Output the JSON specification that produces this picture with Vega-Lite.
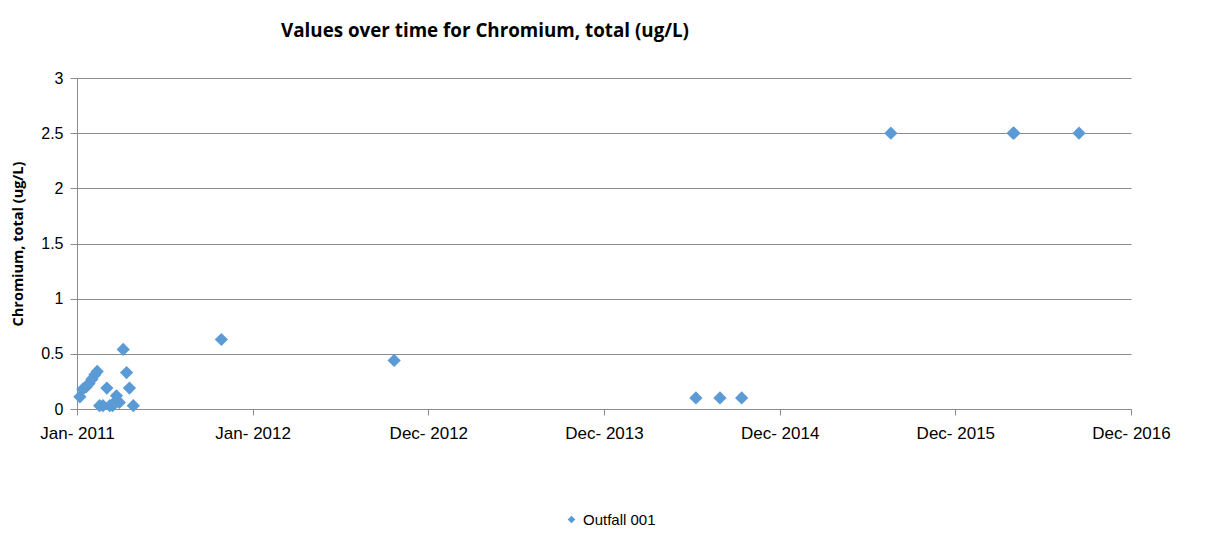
{
  "$schema": "https://vega.github.io/schema/vega-lite/v6.json",
  "width": 1054,
  "height": 331,
  "autosize": {"type": "none"},
  "padding": {"left": 77, "top": 78, "right": 75, "bottom": 130},
  "background": "white",
  "title": {
    "text": "Values over time for Chromium, total (ug/L)",
    "font": "Open Sans",
    "fontSize": 18.8,
    "fontWeight": "bold",
    "color": "#000000",
    "anchor": "middle",
    "dx": -119,
    "offset": 29
  },
  "config": {"view": {"stroke": null}},
  "data": {
    "values": [
      {"date": "2011-01-07", "value": 0.11, "series": "Outfall 001"},
      {"date": "2011-01-13", "value": 0.18, "series": "Outfall 001"},
      {"date": "2011-01-20", "value": 0.20, "series": "Outfall 001"},
      {"date": "2011-01-26", "value": 0.23, "series": "Outfall 001"},
      {"date": "2011-02-01", "value": 0.27, "series": "Outfall 001"},
      {"date": "2011-02-07", "value": 0.31, "series": "Outfall 001"},
      {"date": "2011-02-12", "value": 0.34, "series": "Outfall 001"},
      {"date": "2011-02-17", "value": 0.03, "series": "Outfall 001"},
      {"date": "2011-02-24", "value": 0.03, "series": "Outfall 001"},
      {"date": "2011-03-04", "value": 0.19, "series": "Outfall 001"},
      {"date": "2011-03-10", "value": 0.03, "series": "Outfall 001"},
      {"date": "2011-03-16", "value": 0.03, "series": "Outfall 001"},
      {"date": "2011-03-22", "value": 0.07, "series": "Outfall 001"},
      {"date": "2011-03-24", "value": 0.12, "series": "Outfall 001"},
      {"date": "2011-03-30", "value": 0.06, "series": "Outfall 001"},
      {"date": "2011-04-07", "value": 0.54, "series": "Outfall 001"},
      {"date": "2011-04-14", "value": 0.33, "series": "Outfall 001"},
      {"date": "2011-04-20", "value": 0.19, "series": "Outfall 001"},
      {"date": "2011-04-28", "value": 0.03, "series": "Outfall 001"},
      {"date": "2011-10-28", "value": 0.63, "series": "Outfall 001"},
      {"date": "2012-10-21", "value": 0.44, "series": "Outfall 001"},
      {"date": "2014-07-10", "value": 0.10, "series": "Outfall 001"},
      {"date": "2014-08-29", "value": 0.10, "series": "Outfall 001"},
      {"date": "2014-10-13", "value": 0.10, "series": "Outfall 001"},
      {"date": "2015-08-19", "value": 2.5, "series": "Outfall 001"},
      {"date": "2016-04-29", "value": 2.5, "series": "Outfall 001"},
      {"date": "2016-05-01", "value": 2.5, "series": "Outfall 001"},
      {"date": "2016-09-13", "value": 2.5, "series": "Outfall 001"}
    ]
  },
  "mark": {"type": "point", "shape": "diamond", "filled": true, "opacity": 1, "size": 175},
  "encoding": {
    "x": {
      "field": "date",
      "type": "temporal",
      "title": null,
      "scale": {
        "type": "utc",
        "nice": false,
        "domain": [
          {"year": 2011, "month": 1, "date": 1, "utc": true},
          {"year": 2016, "month": 12, "date": 30, "utc": true}
        ]
      },
      "axis": {
        "values": [
          {"year": 2011, "month": 1, "date": 1, "utc": true},
          {"year": 2012, "month": 1, "date": 1, "utc": true},
          {"year": 2012, "month": 12, "date": 31, "utc": true},
          {"year": 2013, "month": 12, "date": 31, "utc": true},
          {"year": 2014, "month": 12, "date": 31, "utc": true},
          {"year": 2015, "month": 12, "date": 31, "utc": true},
          {"year": 2016, "month": 12, "date": 30, "utc": true}
        ],
        "labelExpr": "utcFormat(datum.value, '%b- %Y')",
        "grid": false,
        "domainColor": "#8c8c8c",
        "tickColor": "#8c8c8c",
        "tickSize": 6,
        "labelFont": "Liberation Sans",
        "labelFontSize": 17,
        "labelColor": "#000000",
        "labelPadding": 10,
        "labelFlush": false,
        "labelOverlap": false
      }
    },
    "y": {
      "field": "value",
      "type": "quantitative",
      "title": "Chromium, total (ug/L)",
      "scale": {"domain": [0, 3], "nice": false},
      "axis": {
        "values": [0, 0.5, 1, 1.5, 2, 2.5, 3],
        "format": "~g",
        "gridColor": "#8c8c8c",
        "gridWidth": 1,
        "domainColor": "#8c8c8c",
        "tickColor": "#8c8c8c",
        "tickSize": 7,
        "labelFont": "Liberation Sans",
        "labelFontSize": 16,
        "labelColor": "#000000",
        "labelPadding": 7,
        "titleFont": "Open Sans",
        "titleFontSize": 14.5,
        "titleFontWeight": "bold",
        "titleColor": "#000000",
        "titleAngle": -90,
        "titleX": -59,
        "titleY": 165.5,
        "titleAlign": "center",
        "titleBaseline": "middle"
      }
    },
    "color": {
      "field": "series",
      "type": "nominal",
      "scale": {"range": ["#5B9BD5"]},
      "legend": {
        "title": null,
        "orient": "none",
        "legendX": 487,
        "legendY": 434,
        "symbolType": "diamond",
        "symbolSize": 60,
        "labelFont": "Liberation Sans",
        "labelFontSize": 15,
        "labelColor": "#000000"
      }
    }
  }
}
